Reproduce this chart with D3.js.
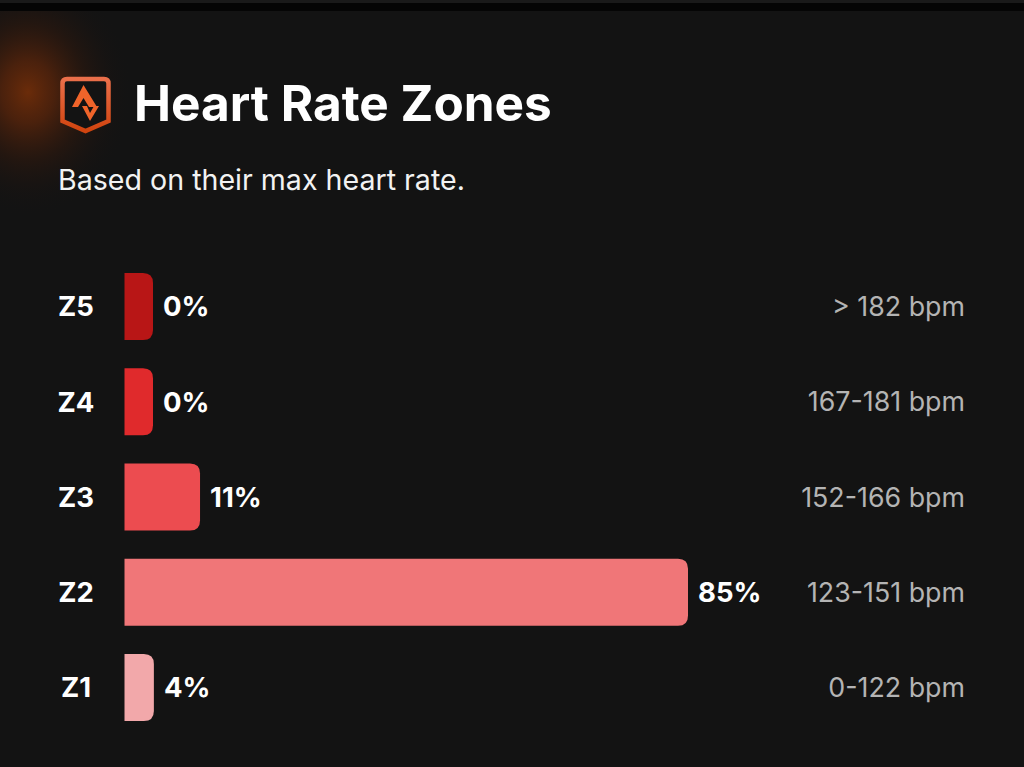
<!DOCTYPE html>
<html><head><meta charset="utf-8">
<script src="https://cdn.jsdelivr.net/npm/d3@7/dist/d3.min.js"></script>
<style>html,body{margin:0;padding:0;background:#131313;overflow:hidden}svg{display:block}text{font-family:Inter,"Noto Sans",sans-serif}</style>
</head><body><svg id="c" width="1024" height="767"></svg>
<script>
const zones=["Z5","Z4","Z3","Z2","Z1"];
const percents=[0,0,11,85,4];
const ranges=["> 182 bpm","167-181 bpm","152-166 bpm","123-151 bpm","0-122 bpm"];
const colors=["#b81616","#e02a2c","#ec4c50","#f07678","#f2a8aa"];
const svg=d3.select("#c");
const defs=svg.append("defs");
const g=defs.append("radialGradient").attr("id","glow");
[[0,"#7a3008",.85],[.25,"#62270a",.7],[.55,"#3a1b0c",.42],[.8,"#241610",.16],[1,"#131313",0]].forEach(s=>g.append("stop").attr("offset",s[0]).attr("stop-color",s[1]).attr("stop-opacity",s[2]));
const ig=defs.append("linearGradient").attr("id","ic").attr("x1",0).attr("y1",0).attr("x2",0).attr("y2",1);
ig.append("stop").attr("offset",0).attr("stop-color","#ea6f4a");ig.append("stop").attr("offset",1).attr("stop-color","#d0440f");
svg.append("rect").attr("width",1024).attr("height",767).attr("fill","#131313");
svg.append("ellipse").attr("cx",28).attr("cy",92).attr("rx",105).attr("ry",125).attr("fill","url(#glow)");
svg.append("rect").attr("width",1024).attr("height",11).attr("fill","#050505");
svg.append("rect").attr("y",0).attr("width",1024).attr("height",3).attr("fill","#1a1a1a");
svg.append("path").attr("d","M67 79H104Q108.500 79 108.500 83.500V121L85.500 131L62.500 121V83.500Q62.500 79 67 79Z").attr("fill","#131313").attr("stroke","url(#ic)").attr("stroke-width",4.500);
svg.append("path").attr("d","M83.500 85L97 107H89L83.500 98L78 107H72Z").attr("fill","#f0642a");
svg.append("path").attr("d","M82 106L90 121L99 106H94L90 113L87 106Z").attr("fill","#f0642a");
svg.append("text").attr("x",134).attr("y",121).attr("fill","#fff").attr("font-size",49.500).attr("font-weight",700).text("Heart Rate Zones");
svg.append("text").attr("x",58).attr("y",190).attr("fill","#f2f2f2").attr("font-size",28.600).text("Based on their max heart rate.");
const y=d3.scaleBand().domain(zones).range([273,721]).paddingInner(0.2966);
const x=d3.scaleLinear().domain([0,85]).range([127.5,688]);
const barW=v=>Math.max(x(v)-124.5,28.5);
const row=svg.selectAll("g.row").data(zones).join("g").attr("class","row");
const r=10;
row.append("path").attr("fill",(d,i)=>colors[i]).attr("d",(d,i)=>{
 const x0=124.5,x1=x0+barW(percents[i]),t=y(d),b=t+y.bandwidth();
 return `M${x0} ${t}H${x1-r}Q${x1} ${t} ${x1} ${t+r}V${b-r}Q${x1} ${b} ${x1-r} ${b}H${x0}Z`;});
const mid=d=>y(d)+y.bandwidth()/2;
row.append("text").attr("x",76).attr("y",d=>mid(d)).attr("dy","0.36em").attr("text-anchor","middle").attr("fill","#fff").attr("font-size",27.500).attr("font-weight",700).text(d=>d);
row.append("text").attr("x",(d,i)=>124.5+barW(percents[i])+10).attr("y",d=>mid(d)).attr("dy","0.36em").attr("fill","#fff").attr("font-size",27.500).attr("font-weight",700).text((d,i)=>percents[i]+"%");
row.append("text").attr("x",965).attr("y",d=>mid(d)).attr("dy","0.36em").attr("text-anchor","end").attr("fill","#b4b4b4").attr("font-size",26.800).text((d,i)=>ranges[i]);
</script></body></html>
